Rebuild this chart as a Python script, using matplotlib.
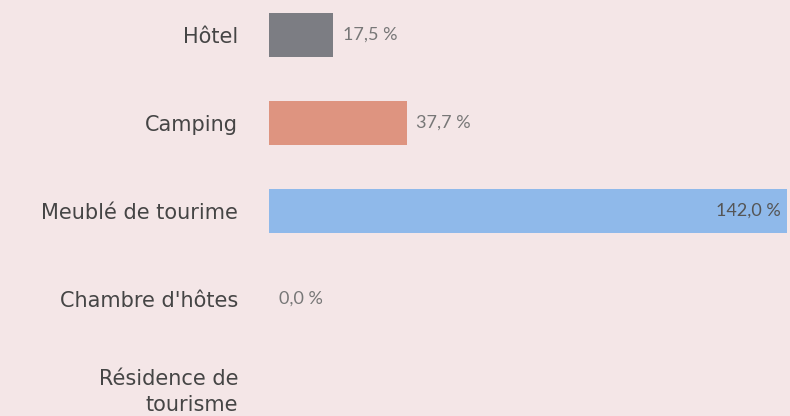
import numpy as np
import matplotlib
matplotlib.use("Agg")
from matplotlib import pyplot as plt

# Chart data
categories = ["Hôtel", "Camping", "Meublé de tourime", "Chambre d'hôtes", "Résidence de\ntourisme"]
values = [17.5, 37.7, 142.0, 0.0, np.nan]
bar_colors = ["#7c7d83", "#de9480", "#8fb9ea", "#8fb9ea", "#8fb9ea"]

bg = "#f4e6e7"
plt.rcParams['font.family'] = ['DejaVu Sans']

fig = plt.figure(figsize=(7.9, 4.16), dpi=100, facecolor=bg)
ax = fig.add_axes([269 / 790, 0, 1 - 269 / 790, 1], facecolor=bg)

y = np.arange(len(categories))
ax.barh(y, np.nan_to_num(values), height=0.5, color=bar_colors)

xmax = 142.7
ax.set_xlim(0, xmax)
ax.set_ylim((416 - 35) / 88, -35 / 88)

# value labels, inside the bar when it would overflow
for yi, v in zip(y, values):
    if np.isnan(v):
        continue
    label = f"{v:.1f} %".replace(".", ",")
    if v > xmax * 0.85:
        ax.annotate(label, (v, yi), xytext=(-5, 0), textcoords="offset points",
                    ha="right", va="center", fontsize=13, color="#555555",
                    family="Lato")
    else:
        ax.annotate(label, (v, yi), xytext=(7, 0), textcoords="offset points",
                    ha="left", va="center", fontsize=13, color="#777777",
                    family="Lato")

ax.set_yticks(y)
ax.set_yticklabels(categories, fontsize=15, color="#454545", linespacing=1.4)
ax.tick_params(axis="y", length=0, pad=22.3)
ax.set_xticks([])
for s in ax.spines.values():
    s.set_visible(False)

fig.savefig("out.png", dpi=100, facecolor=bg)
